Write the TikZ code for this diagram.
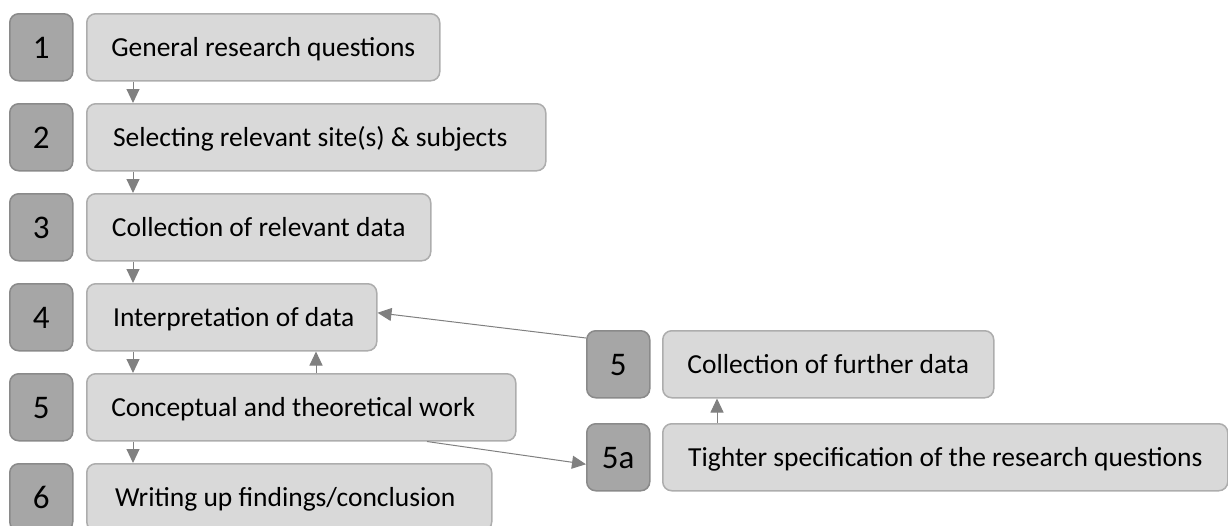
\documentclass[tikz,border=0pt]{standalone}
\usepackage{fontspec}
\setmainfont{Carlito}
\usetikzlibrary{arrows.meta}
\definecolor{stepfill}{HTML}{D9D9D9}
\definecolor{stepline}{HTML}{ADADAD}
\definecolor{numfill}{HTML}{A6A6A6}
\definecolor{numline}{HTML}{8A8A8A}
\definecolor{linkgray}{HTML}{808080}
\tikzset{
  stepbox/.style={draw=stepline, fill=stepfill, line width=1.5pt, rounded corners=9pt,
    anchor=north west, minimum height=67pt, inner sep=0pt,
    text height=21pt, text depth=2pt,
    font=\fontsize{27.5}{33}\selectfont},
  numbox/.style={draw=numline, fill=numfill, line width=1.5pt, rounded corners=9pt,
    anchor=north west, minimum height=67pt, minimum width=63pt, inner sep=0pt,
    text height=23pt, text depth=1pt,
    font=\fontsize{33}{38}\selectfont},
  link/.style={draw=linkgray, line width=1pt, -{Triangle[length=14pt,width=13pt]}, color=linkgray}
}
\begin{document}
\begin{tikzpicture}[x=1pt,y=-1pt]
\useasboundingbox (0,0) rectangle (1228,525);

% main sequence of steps
\node[numbox] (n1) at (9,13) {1};
\node[stepbox, minimum width=353pt] (t1) at (86,13) {General research questions};
\node[numbox] (n2) at (9,103) {2};
\node[stepbox, minimum width=459pt] (t2) at (86,103) {Selecting relevant site(s) \& subjects\hspace*{12pt}};
\node[numbox] (n3) at (9,193) {3};
\node[stepbox, minimum width=344pt] (t3) at (86,193) {Collection of relevant data};
\node[numbox] (n4) at (9,283) {4};
\node[stepbox, minimum width=290pt] (t4) at (86,283) {\hspace*{4pt}Interpretation of data};
\node[numbox] (n5) at (9,373) {5};
\node[stepbox, minimum width=429pt] (t5) at (86,373) {Conceptual and theoretical work\hspace*{16pt}};
\node[numbox] (n6) at (9,463) {6};
\node[stepbox, minimum width=405pt] (t6) at (86,463) {Writing up findings/conclusion\hspace*{8pt}};

% side loop
\node[numbox] (m5) at (586,330) {5};
\node[stepbox, minimum width=331pt] (s5) at (662,330) {Collection of further data};
\node[numbox] (m5a) at (586,423) {5a};
\node[stepbox, minimum width=565pt] (s5a) at (662,423) {Tighter specification of the research questions};

% downward flow
\draw[link] ([xshift=47pt]t1.south west) -- ([xshift=47pt]t2.north west);
\draw[link] ([xshift=47pt]t2.south west) -- ([xshift=47pt]t3.north west);
\draw[link] ([xshift=47pt]t3.south west) -- ([xshift=47pt]t4.north west);
\draw[link] ([xshift=47pt]t4.south west) -- ([xshift=47pt]t5.north west);
\draw[link] ([xshift=47pt]t5.south west) -- ([xshift=47pt]t6.north west);
% feedback from theory to interpretation
\draw[link] ([xshift=230pt]t5.north west) -- ([xshift=230pt]t4.south west);
% branch to the side loop
\draw[link] ([xshift=341pt]t5.south west) -- ([yshift=-7pt]m5a.west);
\draw[link] ([xshift=55pt]s5a.north west) -- ([xshift=55pt]s5.south west);
\draw[link] ([yshift=-8pt]m5.north west) -- ([yshift=4.5pt]t4.east);
\end{tikzpicture}
\end{document}
